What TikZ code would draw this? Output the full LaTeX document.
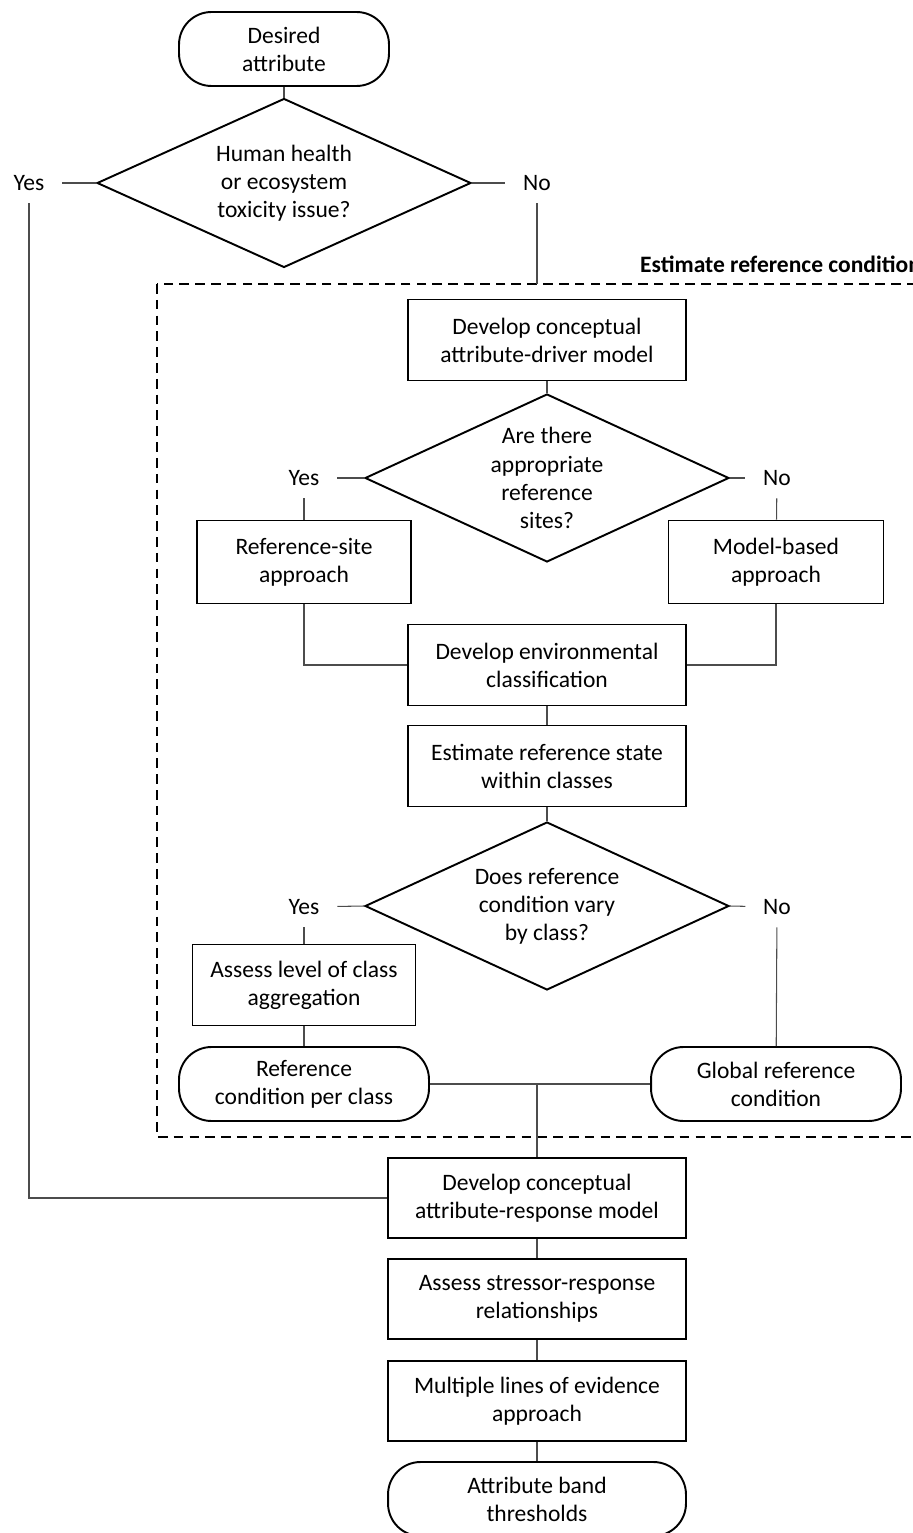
\documentclass[tikz,border=0pt]{standalone}
\usepackage{fontspec}
\setmainfont{Carlito}
\usetikzlibrary{shapes.geometric}
\begin{document}
\begin{tikzpicture}[x=0.02cm, y=-0.02cm,
    every node/.style={font=\fontsize{13.4}{16}\selectfont, align=center},
    process/.style={draw, line width=1.1pt, minimum width=5.56cm, minimum height=1.62cm, inner sep=2pt},
    terminal/.style={draw, line width=1.1pt, rounded corners=0.65cm, minimum height=1.48cm},
    decision/.style={draw, line width=1.1pt, diamond, aspect=2.2, inner sep=0pt, minimum width=7.28cm, minimum height=3.36cm},
    answer/.style={inner xsep=10pt, inner ysep=7pt},
    link/.style={draw=black!70, line width=0.6pt},
    region/.style={draw, line width=1.1pt, dash pattern=on 5.5pt off 3.5pt}]
\useasboundingbox (0,0) rectangle (912,1533);

% Kiểm tra độc tính
\node[terminal, minimum width=4.2cm] (goal) at (284,49) {Desired\\attribute};
\node[decision, minimum width=7.48cm, minimum height=3.38cm] (tox) at (284,183) {Human health\\or ecosystem\\toxicity issue?};
\node[answer] (tox-yes) at (29,183) {Yes};
\node[answer] (tox-no) at (537,183) {No};

% Khung ước lượng điều kiện tham chiếu
\draw[region] (157,284) rectangle (925,1137);
\coordinate (frame-top) at (537,284);
\node[anchor=west, font=\fontsize{13.4}{16}\selectfont\bfseries] (frame-title) at (634,264) {Estimate reference condition};

\node[process] (driver) at (547,340) {Develop conceptual\\attribute-driver model};
\node[decision] (sites) at (547,478) {Are there\\appropriate\\reference\\sites?};
\node[answer] (sites-yes) at (304,478) {Yes};
\node[answer] (sites-no) at (777,478) {No};
\node[process, minimum width=4.28cm, minimum height=1.66cm] (refsite) at (304,562) {Reference-site\\approach};
\node[process, minimum width=4.3cm, minimum height=1.66cm] (model) at (776,562) {Model-based\\approach};
\node[process] (envclass) at (547,665) {Develop environmental\\classification};
\node[process] (state) at (547,766) {Estimate reference state\\within classes};
\node[decision] (vary) at (547,906) {Does reference\\condition vary\\by class?};
\node[answer] (vary-yes) at (304,907) {Yes};
\node[answer] (vary-no) at (777,907) {No};
\node[process, minimum width=4.46cm] (aggr) at (304,985) {Assess level of class\\aggregation};
\node[terminal, minimum width=5cm] (perclass) at (304,1084) {Reference\\condition per class};
\node[terminal, minimum width=5cm] (global) at (776,1084) {Global reference\\condition};

% Phần dưới
\node[process, minimum width=5.96cm, minimum height=1.6cm] (response) at (537,1198) {Develop conceptual\\attribute-response model};
\node[process, minimum width=5.96cm, minimum height=1.6cm] (stressor) at (537,1299) {Assess stressor-response\\relationships};
\node[process, minimum width=5.96cm, minimum height=1.6cm] (evidence) at (537,1401) {Multiple lines of evidence\\approach};
\node[terminal, minimum width=5.96cm] (bands) at (537,1499) {Attribute band\\thresholds};

% Đường nối
\draw[link] (goal) -- (tox);
\draw[link] (tox.west) -- (tox-yes);
\draw[link] (tox.east) -- (tox-no);
\draw[link] (tox-yes) |- (response.west);
\draw[link] (tox-no) -- (frame-top);
\draw[link] (driver) -- (sites);
\draw[link] (sites.west) -- (sites-yes);
\draw[link] (sites.east) -- (sites-no);
\draw[link] (sites-yes) -- (refsite);
\draw[link] (sites-no) -- (model);
\draw[link] (refsite.south) |- (envclass.west);
\draw[link] (model.south) |- (envclass.east);
\draw[link] (envclass) -- (state);
\draw[link] (state) -- (vary);
\draw[link] (vary.west) -- (vary-yes);
\draw[link] (vary.east) -- (vary-no);
\draw[link] (vary-yes) -- (aggr);
\draw[link] (aggr) -- (perclass);
\draw[link] (vary-no) -- (global);
\draw[link] (perclass) -- (global);
\draw[link] (perclass.east -| response.north) -- (response.north);
\draw[link] (response) -- (stressor);
\draw[link] (stressor) -- (evidence);
\draw[link] (evidence) -- (bands);
\end{tikzpicture}
\end{document}
